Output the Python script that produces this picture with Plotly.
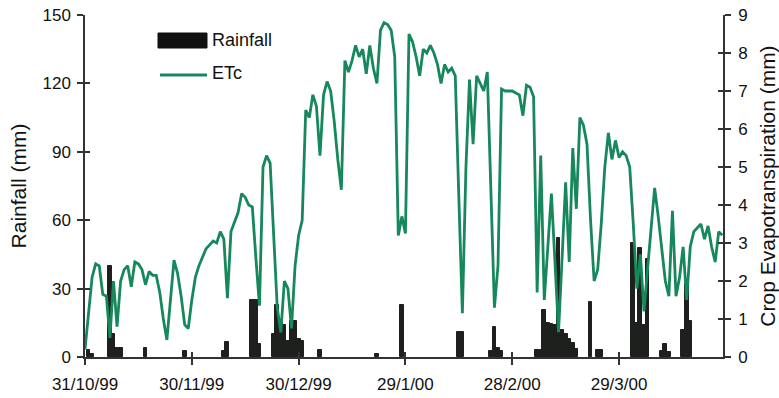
import plotly.graph_objects as go
import pandas as pd

start_date = "1999-10-31"

# Daily crop evapotranspiration (mm), one value per day from 31/10/99
etc_mm = [
    0.2, 1.2, 2.1, 2.45, 2.4, 1.65, 1.6, 0.5, 2.0, 0.8,
    2.0, 2.3, 2.4, 1.85, 2.5, 2.45, 2.3, 1.9, 2.25, 2.15,
    2.15, 1.7, 1.0, 0.45, 1.5, 2.55, 2.2, 1.6, 0.85, 0.75,
    1.5, 2.1, 2.4, 2.65, 2.85, 2.95, 3.05, 3.0, 3.3, 3.1,
    1.55, 3.3, 3.55, 3.8, 4.3, 4.2, 4.0, 3.95, 2.6, 1.35,
    5.0, 5.3, 5.1, 3.0, 1.3, 0.65, 2.0, 1.8, 0.75, 2.4,
    3.2, 3.6, 6.5, 6.3, 6.9, 6.6, 5.3, 6.9, 7.25, 7.0,
    6.2, 5.2, 4.4, 7.8, 7.5, 7.8, 8.2, 7.9, 8.1, 7.45,
    8.2, 7.6, 7.2, 8.6, 8.8, 8.75, 8.6, 7.9, 3.2, 3.7,
    3.25, 8.5, 8.3, 7.9, 7.4, 8.1, 8.0, 8.2, 8.0, 7.7,
    7.2, 7.7, 7.5, 7.6, 7.4, 4.2, 1.15, 5.0, 7.3, 5.6,
    7.4, 7.2, 7.0, 7.5, 4.3, 1.3, 2.4, 7.05, 7.0, 7.0,
    7.0, 6.95, 6.9, 6.35, 7.15, 7.1, 6.85, 1.7, 5.3, 1.5,
    2.8, 4.3, 2.5, 0.65, 2.6, 4.6, 2.5, 5.5, 3.9, 6.3,
    6.1, 5.6, 3.6, 2.0, 2.3, 3.5, 5.0, 5.9, 5.2, 5.7,
    5.25, 5.4, 5.3, 5.0, 3.5, 1.8, 2.7, 1.2, 2.3, 3.4,
    4.45, 3.7, 2.8, 2.0, 1.6, 3.85, 1.6, 2.1, 2.9, 1.5,
    2.9, 3.3, 3.4, 3.5, 3.1, 3.45, 2.9, 2.5, 3.3, 3.2,
]

# Rainfall (mm): day index after 31/10/99 and amount
rain_day = [1, 2, 7, 8, 9, 10, 17, 28, 39, 40,
            47, 48, 49, 53, 54, 55, 56, 57, 58, 59,
            60, 61, 66, 82, 89, 105, 106, 114, 115, 116,
            117, 127, 128, 129, 130, 131, 132, 133, 134, 135,
            136, 137, 138, 142, 144, 145, 154, 155, 156, 157,
            158, 162, 163, 164, 168, 169, 170]
rain_value = [3, 1.5, 40, 10, 4, 4, 4, 2.5, 2.5, 6.5,
              25, 25, 5.5, 10, 23, 15, 14, 7, 16, 16,
              8, 7, 3, 1.5, 23, 11, 11, 2.5, 13, 4,
              2.5, 3, 3, 20.5, 15, 14.5, 14, 52, 12, 10,
              8, 6, 3.5, 24, 3, 3, 50, 15, 48, 14,
              43, 2.5, 5.5, 2, 12, 32, 16]

tick_dates = ["1999-10-31", "1999-11-30", "1999-12-30",
              "2000-01-29", "2000-02-28", "2000-03-29"]
tick_text = ["31/10/99", "30/11/99", "30/12/99", "29/1/00", "28/2/00", "29/3/00"]
rain_ticks = [0, 30, 60, 90, 120, 150]
etc_ticks = [0, 1, 2, 3, 4, 5, 6, 7, 8, 9]

t0 = pd.Timestamp(start_date)
etc_dates = pd.date_range(t0, periods=len(etc_mm), freq="D")
rain_dates = t0 + pd.to_timedelta(rain_day, unit="D")
x_end = t0 + pd.Timedelta(days=179.2)

FONT = "Liberation Sans, Arial, sans-serif"
AX = "#333333"
GREEN = "#17875c"

fig = go.Figure()
fig.add_trace(go.Bar(
    x=rain_dates, y=rain_value, width=86400000 * 1.08,
    marker=dict(color="#1d201d", line=dict(color="#1d201d", width=1)),
    name="Rainfall", showlegend=False, yaxis="y",
))
fig.add_trace(go.Scatter(
    x=etc_dates, y=etc_mm, mode="lines",
    line=dict(color=GREEN, width=2.8),
    name="ETc", showlegend=False, yaxis="y2",
))
# empty traces that carry the inner half of the crossing tick marks
fig.add_trace(go.Scatter(x=[], y=[], xaxis="x2", yaxis="y3", showlegend=False))
fig.add_trace(go.Scatter(x=[], y=[], xaxis="x2", yaxis="y4", showlegend=False))

common = dict(showgrid=False, zeroline=False, tickcolor=AX, tickwidth=1.5, automargin=False)

fig.update_layout(
    width=779, height=398,
    margin=dict(l=85, r=56, t=15, b=41, autoexpand=False),
    paper_bgcolor="white", plot_bgcolor="white",
    bargap=0,
    font=dict(family=FONT, color="#111111"),
    xaxis=dict(type="date", range=[t0, x_end], tickmode="array",
               tickvals=tick_dates, ticktext=tick_text,
               ticks="outside", ticklen=6, showline=True, linecolor=AX, linewidth=1.5,
               ticklabelstandoff=5,
               tickfont=dict(size=17, family=FONT, color="#111111"), **common),
    xaxis2=dict(type="date", range=[t0, x_end], overlaying="x", anchor="y3",
                tickmode="array", tickvals=tick_dates, ticks="inside", ticklen=5,
                showticklabels=False, showline=False, **common),
    yaxis=dict(range=[0, 150], tickmode="array", tickvals=rain_ticks,
               ticks="outside", ticklen=6, showline=True, linecolor=AX, linewidth=1.5,
               tickfont=dict(size=17, family=FONT, color="#111111"),
               ticklabelstandoff=3,
               title=dict(text="Rainfall (mm)", font=dict(size=21, family=FONT, color="#111111"),
                          standoff=10), **common),
    yaxis2=dict(range=[0, 9], tickmode="array", tickvals=etc_ticks, overlaying="y", side="right",
                ticks="outside", ticklen=6, showline=True, linecolor=AX, linewidth=1.5,
                tickfont=dict(size=17, family=FONT, color="#111111"),
                ticklabelstandoff=4,
                title=dict(text="Crop Evapotranspiration (mm)",
                           font=dict(size=21, family=FONT, color="#111111"), standoff=14),
                **common),
    yaxis3=dict(range=[0, 150], tickmode="array", tickvals=rain_ticks, overlaying="y",
                side="left", anchor="x2", ticks="inside", ticklen=5,
                showticklabels=False, showline=False, **common),
    yaxis4=dict(range=[0, 9], tickmode="array", tickvals=etc_ticks, overlaying="y",
                side="right", anchor="x2", ticks="inside", ticklen=5,
                showticklabels=False, showline=False, **common),
)

# legend drawn in the upper-left corner of the plot area
def px_x(p):
    return (p - 85) / 638.0

def px_y(p):
    return (357 - p) / 342.0

fig.add_shape(type="rect", xref="paper", yref="paper",
              x0=px_x(158), x1=px_x(207), y0=px_y(48), y1=px_y(33),
              fillcolor="#111111", line=dict(color="#111111", width=1))
fig.add_shape(type="line", xref="paper", yref="paper",
              x0=px_x(160), x1=px_x(207), y0=px_y(75), y1=px_y(75),
              line=dict(color=GREEN, width=3))
fig.add_annotation(text="Rainfall", xref="paper", yref="paper",
                   x=px_x(210), y=px_y(40), xanchor="left", yanchor="middle",
                   showarrow=False, font=dict(size=18, family=FONT, color="#111111"))
fig.add_annotation(text="ETc", xref="paper", yref="paper",
                   x=px_x(210), y=px_y(73), xanchor="left", yanchor="middle",
                   showarrow=False, font=dict(size=18, family=FONT, color="#111111"))

fig.write_html("out.html")
